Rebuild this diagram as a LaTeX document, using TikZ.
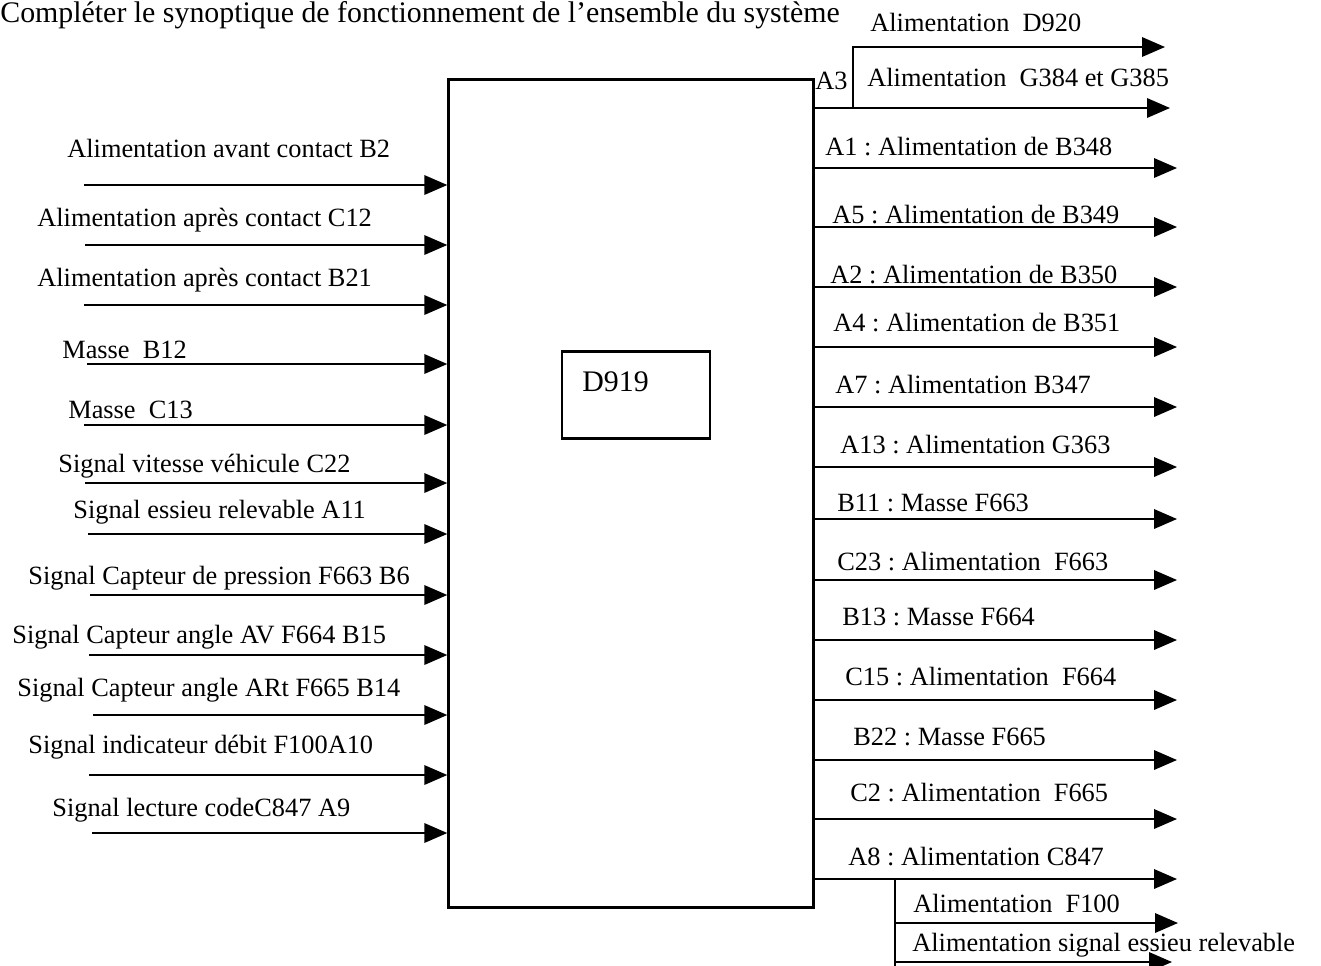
\documentclass[tikz,border=0pt]{standalone}
\usepackage{fontspec}
\setmainfont{Liberation Serif}
\usetikzlibrary{arrows.meta, positioning, calc}
\frenchspacing

\begin{document}
\begin{tikzpicture}[
    x=0.02cm, y=-0.02cm,
    every node/.style={font=\fontsize{15}{18}\selectfont, inner sep=0pt},
    lab/.style={anchor=west},
    big/.style={font=\fontsize{17}{20}\selectfont},
    frame/.style={draw, line width=1.4pt},
    wire/.style={line width=1.1pt, -{Triangle[length=13pt, width=11pt]}},
]
\useasboundingbox (0,0) rectangle (1321,965);
\clip (0,0) rectangle (1321,965);

\node[big, anchor=base west] (title) at (0,22) {Compléter le synoptique de fonctionnement de l'ensemble du système};

% the unit and its inner box
\node[frame, minimum width=7.3cm, minimum height=16.56cm] (ecu) at (631,493.5) {};
\node[frame, minimum width=2.96cm, minimum height=1.74cm] (d919) at (636,395) {};
\node[big, anchor=west] (d919txt) at (582,382) {D919};

% inputs
\foreach \i/\y/\x/\lx/\ly/\txt in {
    1/185/84/67/148/Alimentation avant contact B2,
    2/245/85/37/220/Alimentation après contact C12,
    3/305/84/37/280/Alimentation après contact B21,
    4/364/87/62/350/Masse\ \ B12,
    5/425/84/68/410/Masse\ \ C13,
    6/483/85/58/466/Signal vitesse véhicule C22,
    7/534/88/73/512/Signal essieu relevable A11,
    8/595/90/28/578/Signal Capteur de pression F663 B6,
    9/655/89/12/637/Signal Capteur angle AV F664 B15,
    10/715/93/17/690/Signal Capteur angle ARt F665 B14,
    11/775/89/28/747/Signal indicateur débit F100A10,
    12/833/92/52/810/Signal lecture codeC847 A9}{
    \coordinate (in\i) at (\x,\y);
    \draw[wire] (in\i) -- (in\i -| ecu.west);
    \node[lab] (inlab\i) at (\lx,\ly) {\txt};
}

% outputs
\foreach \i/\y/\lx/\ly/\txt in {
    1/168/825/147/A1 : Alimentation de B348,
    2/227/832/215/A5 : Alimentation de B349,
    3/287/830/275/A2 : Alimentation de B350,
    4/347/833/323/A4 : Alimentation de B351,
    5/407/835/385/A7 : Alimentation B347,
    6/467/840/445/A13 : Alimentation G363,
    7/519/837/503/B11 : Masse F663,
    8/580/837/562/C23 : Alimentation\ \ F663,
    9/640/842/617/B13 : Masse F664,
    10/700/845/677/C15 : Alimentation\ \ F664,
    11/760/853/737/B22 : Masse F665,
    12/819/850/793/C2 : Alimentation\ \ F665,
    13/879/848/857/A8 : Alimentation C847}{
    \coordinate (out\i) at (1177,\y);
    \draw[wire] (out\i -| ecu.east) -- (out\i);
    \node[lab] (outlab\i) at (\lx,\ly) {\txt};
}

% branch A3
\coordinate (g384) at (1170,108);
\coordinate (a3) at (853,108);
\coordinate (d920) at (1165,47);
\draw[wire] (g384 -| ecu.east) -- (g384);
\draw[wire] (a3) |- (d920);
\node[lab] (a3lab) at (815,81) {A3};
\node[lab] (g384lab) at (867,77) {Alimentation\ \ G384 et G385};
\node[lab] (d920lab) at (870,22) {Alimentation\ \ D920};

% branch A8
\coordinate (a8) at (895,879);
\coordinate (f100) at (1178,923);
\coordinate (ess) at (1172,962);
\draw[wire] (a8) |- (f100);
\draw[wire] (a8) |- (ess);
\draw[line width=1.1pt] (ess -| a8) -- ++(0,10);
\node[lab] (f100lab) at (913,903) {Alimentation\ \ F100};
\node[lab] (esslab) at (912,945) {Alimentation signal essieu relevable};
\end{tikzpicture}
\end{document}
